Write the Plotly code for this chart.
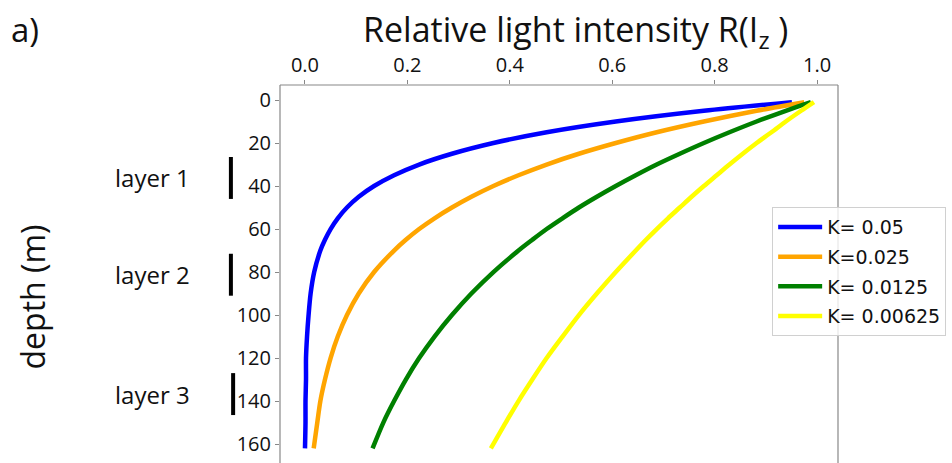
import plotly.graph_objects as go

# Depth below the surface (m)
depth = [1, 5, 10, 15, 20, 25, 30, 35, 40, 45, 50, 55, 60, 65, 70, 80, 90, 100,
         110, 120, 130, 140, 150, 162]

# Relative light intensity for each attenuation coefficient K
r_k005 = [0.951, 0.779, 0.607, 0.472, 0.368, 0.287, 0.223, 0.174, 0.135, 0.105,
          0.082, 0.064, 0.050, 0.039, 0.030, 0.018, 0.011, 0.007, 0.004, 0.002,
          0.002, 0.001, 0.001, 0.000]
r_k0025 = [0.975, 0.882, 0.779, 0.687, 0.607, 0.535, 0.472, 0.417, 0.368, 0.325,
           0.287, 0.253, 0.223, 0.197, 0.174, 0.135, 0.105, 0.082, 0.064, 0.050,
           0.039, 0.030, 0.024, 0.017]
r_k00125 = [0.988, 0.939, 0.882, 0.829, 0.779, 0.732, 0.687, 0.646, 0.607, 0.570,
            0.535, 0.503, 0.472, 0.444, 0.417, 0.368, 0.325, 0.287, 0.253, 0.223,
            0.197, 0.174, 0.153, 0.132]
r_k000625 = [0.994, 0.969, 0.939, 0.911, 0.882, 0.855, 0.829, 0.804, 0.779, 0.755,
             0.732, 0.709, 0.687, 0.666, 0.646, 0.607, 0.570, 0.535, 0.503, 0.472,
             0.444, 0.417, 0.392, 0.363]

series_names = ["K= 0.05", "K=0.025", "K= 0.0125", "K= 0.00625"]
series_values = [r_k005, r_k0025, r_k00125, r_k000625]
series_colors = ["#0000ff", "#ffa500", "#008000", "#ffff00"]

# Depth layers marked beside the axis
layer_names = ["layer 1", "layer 2", "layer 3"]
layer_top = [26.5, 71.5, 127.0]
layer_bottom = [46.0, 91.0, 146.5]
layer_bar_x = [-0.088, -0.088, -0.084]

x_ticks = [0.0, 0.2, 0.4, 0.6, 0.8, 1.0]
y_ticks = [0, 20, 40, 60, 80, 100, 120, 140, 160]

TEXT_FONT = "Open Sans"
LEGEND_FONT = "DejaVu Sans"

fig = go.Figure()
for i, (name, vals, col) in enumerate(zip(series_names, series_values, series_colors)):
    fig.add_trace(go.Scatter(
        x=vals, y=depth, mode="lines", name=name, legendgroup=f"g{i}",
        line=dict(color=col, width=4.5, shape="spline", smoothing=0.8),
    ))

axis_common = dict(
    showgrid=False, zeroline=False, showline=False,
    ticks="outside", ticklen=4, tickcolor="#888", tickwidth=1,
    tickfont=dict(family=TEXT_FONT, size=20, color="#111"),
)

fig.update_layout(
    width=952, height=463,
    margin=dict(l=280, r=114, t=85, b=0),
    paper_bgcolor="white", plot_bgcolor="white",
    xaxis=dict(range=[-0.0488, 1.041], side="top", tickvals=x_ticks,
               ticktext=[f"{v:.1f}" for v in x_ticks], **axis_common),
    yaxis=dict(range=[168.8, -6.98], tickvals=y_ticks, **axis_common),
    legend=dict(
        x=0.882, y=0.677, xanchor="left", yanchor="top",
        bgcolor="rgba(255,255,255,0.8)", bordercolor="#d0d0d0", borderwidth=1,
        font=dict(family=LEGEND_FONT, size=19, color="#111"),
        tracegroupgap=2, itemwidth=44,
    ),
    showlegend=True,
)

# Axes frame: left, top and right edges
frame = "#888"
for x0, y0, x1, y1 in [(0, 0, 0, 1), (0, 1, 1, 1), (1, 0, 1, 1)]:
    fig.add_shape(type="line", xref="paper", yref="paper",
                  x0=x0, y0=y0, x1=x1, y1=y1, line=dict(color=frame, width=1.2))

# Layer bars and labels
for name, top, bot, bx in zip(layer_names, layer_top, layer_bottom, layer_bar_x):
    fig.add_shape(type="line", xref="paper", yref="y",
                  x0=bx, x1=bx, y0=top, y1=bot, line=dict(color="black", width=4))
    fig.add_annotation(text=name, xref="paper", yref="y",
                       x=-0.228, y=(top + bot) / 2, showarrow=False,
                       xanchor="center", yanchor="middle",
                       font=dict(family=TEXT_FONT, size=24, color="#111"))

fig.add_annotation(text="Relative light intensity R(I<sub>z</sub> )",
                   xref="paper", yref="paper", x=0.530, y=1.0, yshift=54,
                   showarrow=False, xanchor="center", yanchor="middle",
                   font=dict(family=TEXT_FONT, size=34, color="#111"))
fig.add_annotation(text="a)", xref="paper", yref="paper", x=-0.457, y=1.0, yshift=56,
                   showarrow=False, xanchor="center", yanchor="middle",
                   font=dict(family=TEXT_FONT, size=33, color="#111"))
fig.add_annotation(text="depth (m)", xref="paper", yref="paper", x=-0.443, y=0.44,
                   textangle=-90, showarrow=False, xanchor="center", yanchor="middle",
                   font=dict(family=TEXT_FONT, size=32, color="#111"))

fig.write_html("out.html")
